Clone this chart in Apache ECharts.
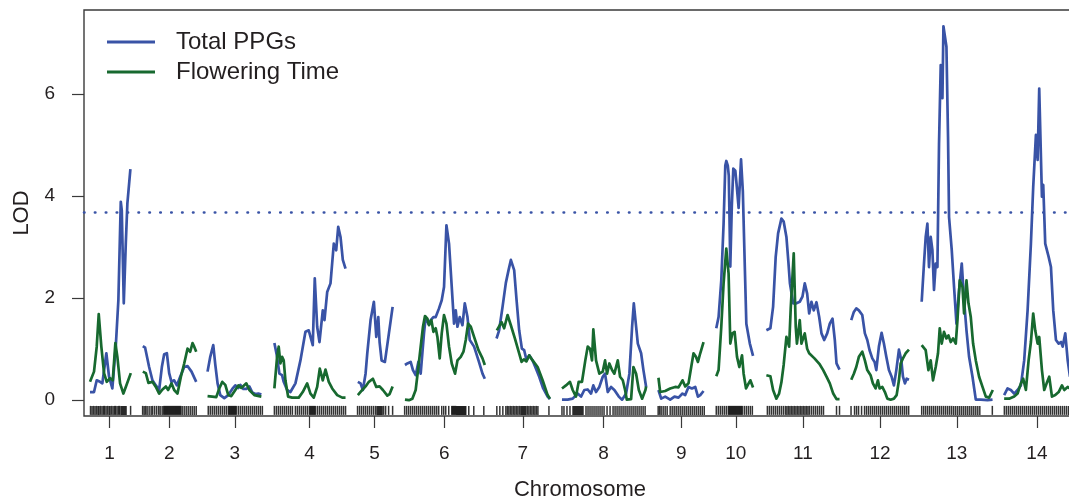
<!DOCTYPE html>
<html>
<head>
<meta charset="utf-8">
<script src="https://cdn.jsdelivr.net/npm/echarts@6/dist/echarts.min.js"></script>
<style>
html,body{margin:0;padding:0;background:#fff;}
#chart{width:1069px;height:502px;}
</style>
</head>
<body>
<div id="chart"></div>
<script>
// ---- Chromosomes (lengths in cM) ----
const chromNames = ['1','2','3','4','5','6','7','8','9','10','11','12','13','14'];
const chromLengths = [86,108,110,144,72,162,108,170,96,78,146,118,144,132];
const chromGap = 22;
const yTicks = [0,2,4,6];
const threshold = 3.69;

// ---- Total PPGs LOD profile, per chromosome [cM, LOD] ----
const ppgLod = [
 [[4,0.16],[12,0.16],[17.4,0.39],[24,0.36],[28.6,0.33],[36.6,0.92],[42,0.46],[48.6,0.23],[55.4,1.05],[60.6,1.96],[65.4,3.89],[67.4,3.72],[71.4,1.9],[75.4,3.07],[78.6,3.86],[84.6,4.53]],
 [[1.4,1.06],[6,1.03],[14,0.65],[20.6,0.39],[27.4,0.29],[34,0.2],[39.4,0.65],[44,0.9],[49.4,0.92],[54,0.53],[58.6,0.36],[64,0.39],[69.4,0.29],[76,0.46],[84,0.65],[90.6,0.67],[98.6,0.56],[108,0.36]],
 [[0.6,0.56],[6,0.85],[12,1.08],[16,0.7],[20.6,0.33],[26,0.1],[34,0.04],[42,0.1],[50,0.22],[56,0.29],[62,0.24],[66,0.3],[72,0.22],[78,0.22],[84,0.27],[90,0.15],[96,0.12],[102,0.13],[108,0.11]],
 [[2,1.12],[7.4,0.85],[12,0.52],[17.4,0.49],[20.6,0.36],[27.4,0.2],[34,0.16],[44,0.33],[54,0.78],[64,1.34],[70.6,1.37],[78.6,1.08],[82.6,2.39],[87.4,1.44],[92,1.14],[98.6,1.76],[102,1.57],[107.4,2.12],[114,2.29],[120.6,3.07],[125.4,2.94],[129.4,3.4],[134,3.2],[138.6,2.75],[144,2.58]],
 [[2.6,0.36],[8,0.33],[12.6,0.2],[18,0.52],[21.4,0.92],[28,1.57],[34.6,1.93],[39.4,1.24],[43.4,1.63],[46,1.14],[50,0.78],[56.6,0.75],[64.6,1.31],[72,1.83]],
 [[2.6,0.69],[7.4,0.72],[14,0.75],[18.6,0.59],[24,0.49],[29.4,0.75],[34,0.52],[40.6,1.31],[44,1.63],[49.4,1.5],[54,1.57],[59.4,1.63],[64,1.63],[70.6,1.8],[76,1.96],[80.6,2.22],[85.4,3.43],[90.6,3.07],[96,2.22],[100.6,1.5],[104,1.76],[107.4,1.44],[112,1.63],[117.4,1.47],[122,1.9],[127.4,1.63],[132,1.18],[140.6,1.05],[149.4,0.78],[157.4,0.52],[162,0.42]],
 [[1.4,1.21],[6.6,1.37],[13.4,1.83],[20,2.3],[25.4,2.55],[30,2.75],[33,2.78],[36.6,2.55],[41.4,1.96],[46.6,1.37],[52,1.01],[56.6,0.98],[61.4,0.78],[66.6,0.88],[73.4,0.78],[80,0.62],[86.6,0.46],[94.6,0.23],[103.4,0.07],[108,0.02]],
 [[2,0.01],[13.4,0.01],[23.4,0.03],[33.4,0.13],[40,0.07],[46.6,0.2],[53.4,0.21],[60,0.13],[64.6,0.29],[70,0.16],[76.6,0.26],[83.4,0.46],[88,0.52],[93.4,0.16],[100,0.26],[106.6,0.2],[115.4,0.07],[122,0.01],[130,0.13],[136.6,0.52],[142,1.44],[145.4,1.9],[150,1.44],[153.4,1.11],[160,0.92],[164.6,0.59],[170,0.26]],
 [[2.6,0.2],[8,0.03],[16,0.07],[26,0.01],[34.6,0.07],[42.6,0.05],[50.6,0.13],[56,0.1],[62.6,0.26],[69.4,0.23],[76,0.26],[81.4,0.07],[86,0.1],[92.6,0.18]],
 [[0,1.41],[4.6,1.63],[10,2.35],[14.6,3.46],[18,4.6],[20,4.69],[23,4.6],[25,4.4],[28,2.62],[31,3.8],[34,4.54],[38,4.5],[41,4.18],[44.6,3.77],[49.4,4.72],[53,4.1],[57,2.6],[60,1.5],[67,1.11],[73.4,0.87]],
 [[0,1.37],[8,1.41],[13.4,1.83],[18.6,2.81],[23.4,3.27],[30,3.56],[34.6,3.5],[40,3.2],[44,2.7],[47,2.29],[53.4,1.9],[60,1.9],[66.6,1.93],[72,2.03],[76.6,2.29],[81.4,2.09],[85.4,1.7],[90,1.93],[94.6,1.76],[100,1.92],[105.4,1.63],[110,1.31],[115.4,1.18],[121.4,1.31],[126.6,1.5],[132,1.6],[136.6,1.18],[140,0.72],[146,0.6]],
 [[1.4,1.57],[6.6,1.73],[11.4,1.8],[16.6,1.76],[23.4,1.67],[28.6,1.31],[33.4,1.18],[38,0.98],[43.4,0.82],[48,0.75],[51.4,0.59],[56.6,1.05],[62,1.32],[66.6,1.11],[71.4,0.85],[76.6,0.59],[82,0.46],[86.6,0.29],[91.4,0.59],[96.6,0.99],[101.4,0.78],[104.6,0.46],[108.6,0.33],[112,0.42],[116.6,0.4]],
 [[2,1.93],[6.6,2.68],[10,3.2],[13.4,3.46],[16.6,2.61],[20,3.2],[23.4,2.94],[26.6,2.16],[30,2.68],[33.4,2.61],[36.6,5.03],[40,6.57],[42,6.6],[43.4,5.92],[45.4,7.33],[48.6,7.3],[51.4,6.93],[54.6,5.16],[56.6,3.59],[62,2.94],[66.6,2.22],[71.4,1.5],[76.6,2.16],[82,2.68],[86.6,1.96],[91.4,1.37],[96.6,0.85],[103.4,0.46],[110,0.01],[120,0.01],[133.4,0.0],[143.4,0.01]],
 [[0.6,0.1],[7.4,0.23],[14,0.2],[20.6,0.13],[27.4,0.2],[34,0.29],[40.6,0.78],[47.4,1.76],[54,3.07],[58.6,4.18],[64,5.2],[67.4,4.71],[70.6,6.11],[74,4.77],[76,3.99],[78.6,4.22],[82.6,3.07],[89.4,2.81],[94,2.61],[98.6,1.76],[104,1.18],[109.4,1.11],[114,1.14],[117.4,1.05],[122.6,1.31],[127.4,0.78],[132,0.46]]
];

// ---- Flowering Time LOD profile, per chromosome [cM, LOD] ----
const fltLod = [
 [[4,0.36],[12,0.56],[17.4,1.05],[21.4,1.69],[26.6,1.05],[32,0.53],[37.4,0.36],[44,0.43],[49.4,0.39],[54.6,1.12],[58.6,0.85],[64,0.33],[70.6,0.13],[75.4,0.26],[85.4,0.53]],
 [[1.4,0.56],[7.4,0.53],[12.6,0.34],[20.6,0.36],[27.4,0.26],[34,0.13],[40.6,0.21],[47.4,0.27],[52,0.2],[58.6,0.33],[64,0.2],[70.6,0.13],[77.4,0.46],[84,0.72],[90.6,1.01],[96,0.95],[100.6,1.12],[104,1.05],[108,0.95]],
 [[0.6,0.08],[10,0.07],[18,0.06],[24,0.23],[30,0.36],[36,0.3],[42,0.1],[48,0.08],[56,0.2],[62,0.29],[68,0.24],[78,0.33],[84,0.2],[94,0.1],[108,0.07]],
 [[2,0.23],[7.4,0.85],[10.6,1.05],[14,0.72],[17.4,0.85],[20.6,0.78],[24,0.39],[29.4,0.07],[37.4,0.05],[50.6,0.05],[58.6,0.16],[67.4,0.33],[74,0.13],[80.6,0.05],[87.4,0.26],[92.6,0.62],[98.6,0.39],[104,0.6],[110.6,0.36],[117.4,0.23],[127.4,0.1],[137.4,0.05],[144,0.05]],
 [[2.6,0.1],[11.4,0.2],[18,0.27],[24.6,0.36],[32.6,0.42],[39.4,0.26],[46,0.27],[52.6,0.2],[61.4,0.09],[66,0.12],[72,0.27]],
 [[2.6,0.01],[10.6,0.0],[17.4,0.03],[24,0.2],[29.4,0.65],[34,1.05],[38.6,1.44],[42.6,1.65],[47.4,1.6],[50.6,1.47],[55.4,1.57],[59.4,1.34],[64,1.41],[67.4,1.24],[72,0.82],[76,1.31],[80.6,1.67],[85.4,1.5],[90.6,1.05],[96,0.72],[102.6,0.52],[107.4,0.78],[114,0.85],[119.4,0.95],[124,1.18],[128.6,1.5],[134,1.44],[140.6,1.24],[149.4,0.98],[157.4,0.82],[162,0.69]],
 [[2,1.37],[11.4,1.53],[16.6,1.41],[23.4,1.67],[30,1.47],[38,1.21],[46.6,0.92],[51.4,0.75],[56,0.8],[61,0.76],[66.6,0.88],[73.4,0.78],[83.4,0.65],[93.4,0.39],[103.4,0.1],[108,0.03]],
 [[2,0.23],[10,0.29],[18,0.36],[23.4,0.2],[30,0.07],[35.4,0.36],[42,0.36],[48.6,0.78],[53.4,1.05],[58,1.01],[62,0.78],[64.6,1.39],[70,0.78],[76.6,0.52],[83.4,0.56],[88,0.78],[92,0.52],[96.6,0.72],[102,0.59],[106.6,0.52],[113.4,0.78],[118,0.46],[123.4,0.39],[128,0.2],[131.4,0.01],[140,0.02],[144.6,0.65],[150,0.52],[155.4,0.2],[162,0.03],[168.6,0.2],[170,0.27]],
 [[2.6,0.44],[6,0.16],[16,0.18],[26,0.23],[36,0.26],[42.6,0.25],[50.6,0.39],[56,0.27],[62.6,0.33],[68,0.65],[72.6,0.92],[77.4,0.85],[81.4,0.75],[86,0.92],[92.6,1.14]],
 [[0,0.47],[4.6,0.59],[10,1.44],[14.6,2.29],[20,2.97],[24.6,2.48],[28,1.11],[32,1.31],[36.6,1.34],[41.4,0.85],[46,0.65],[51.4,0.88],[54.6,0.52],[59.4,0.23],[64.6,0.33],[68,0.39],[73.4,0.25]],
 [[0,0.49],[8,0.47],[13.4,0.2],[20,0.03],[25.4,0.13],[30,0.35],[34.6,0.7],[40,1.24],[45.4,1.05],[48.6,1.8],[54.6,2.88],[58.6,1.44],[61,1.11],[66.6,1.57],[70,1.11],[76.6,1.31],[81.4,1.01],[85.4,0.92],[96,0.82],[106.6,0.7],[113.4,0.59],[120,0.46],[126.6,0.33],[133.4,0.13],[140,0.02],[146,0.02]],
 [[1.4,0.4],[6.6,0.52],[11.4,0.65],[16.6,0.85],[23.4,0.95],[28.6,0.78],[33.4,0.59],[40,0.49],[44.6,0.33],[50,0.23],[54.6,0.39],[58,0.23],[63.4,0.26],[68.6,0.16],[73.4,0.03],[80,0.01],[86.6,0.03],[92,0.1],[96.6,0.39],[100,0.72],[104.6,0.82],[110,0.92],[116.6,0.99]],
 [[2,1.08],[10,0.98],[15.4,0.59],[20,0.78],[24.6,0.39],[30,0.65],[34.6,0.92],[38,1.41],[42,1.11],[46.6,1.34],[51.4,1.21],[55.4,1.27],[60,1.14],[64.6,1.21],[70,1.11],[73.4,1.57],[78,2.35],[83.4,2.22],[86.6,1.7],[91.4,2.35],[95.4,1.9],[100,1.63],[104.6,1.11],[110,0.78],[116.6,0.46],[123.4,0.26],[130,0.07],[136.6,0.05],[144,0.2]],
 [[0.6,0.03],[10.6,0.03],[20.6,0.07],[27.4,0.13],[34,0.33],[38.6,0.42],[44,0.2],[49.4,0.78],[54,1.14],[58.6,1.7],[62.6,1.37],[67.4,1.11],[70.6,1.24],[76,0.59],[80.6,0.2],[85.4,0.33],[90.6,0.46],[96,0.07],[102.6,0.1],[109.4,0.16],[116,0.29],[120.6,0.2],[127.4,0.26],[132,0.23]]
];

// ---- Genetic markers (cM) per chromosome, drawn as a rug ----
const markers = [
 [5,8,11,14,17,20,22,25,28,31,33,36,39,42,44,47,50,53,55,58,61,63,66,68,70,72,74,76,85],
 [1,4,7,10,14,18,21,25,29,33,36,40,43,45,47,49,51,53,55,57,59,61,63,65,67,69,71,73,75,77,80,84,88,92,96,100,104,108],
 [2,6,10,14,18,22,26,30,34,38,42,44,46,48,50,52,54,56,58,62,66,70,74,78,82,86,90,94,98,102,106,110],
 [2,6,10,14,18,22,26,30,34,38,44,48,52,56,60,64,68,72,74,76,78,80,82,84,88,92,96,100,104,108,112,116,120,124,128,132,136,140,144],
 [2,6,10,14,18,22,26,30,34,38,41,43,45,47,49,51,54,58,64,72],
 [2,6,10,14,18,22,26,30,34,38,42,46,50,54,58,62,66,70,76,80,84,90,96,98,100,102,104,106,108,110,112,114,116,118,120,122,124,130,140,160],
 [2,8,14,20,23,26,29,32,35,38,41,44,47,50,52,54,56,58,60,63,66,69,72,75,78,81,84,106],
 [2,6,12,18,24,26,28,30,32,34,36,38,40,42,44,50,54,58,62,66,70,74,78,82,86,92,98,104,108,112,116,120,124,128,132,136,140,144,148,152,156,160,164,168],
 [2,5,8,12,16,20,26,30,34,38,42,46,50,54,58,62,66,70,74,78,82,86,90,94],
 [0,4,8,12,16,20,24,26,28,30,32,34,36,38,40,42,44,46,48,50,52,56,60,64,68,72],
 [2,6,10,14,18,22,26,30,34,38,41,44,47,50,53,56,59,62,65,68,71,74,77,80,83,86,90,94,98,102,106,110,114,140,146],
 [1,8,12,16,22,28,32,36,40,44,48,52,56,60,64,68,72,76,80,84,88,92,96,100,104,108,112,116],
 [2,6,10,14,18,22,26,30,34,38,42,46,50,54,58,62,66,70,74,78,82,86,90,94,98,102,106,110,114,118,143],
 [1,5,9,13,17,21,25,29,33,37,41,45,49,53,57,61,65,69,73,77,81,85,89,93,97,101,105,109,113,117,121,125,129]
];
const rugLevel = -0.2;

// ---- derived genome layout ----
const offsets = [];
let acc = 0;
chromLengths.forEach((len) => { offsets.push(acc); acc += len + chromGap; });
const mids = chromLengths.map((len, i) => offsets[i] + len / 2);

const BLUE = '#3953a6';
const GREEN = '#17692f';
const TEXT = '#231f20';
const FONT = '"Liberation Sans", Arial, Helvetica, sans-serif';

const series = [];
ppgLod.forEach((pts, i) => {
  series.push({
    type: 'line', name: 'Total PPGs', symbol: 'none', showSymbol: false,
    data: pts.map(p => [offsets[i] + p[0], p[1]]),
    lineStyle: { color: BLUE, width: 2.7, join: 'round' },
    itemStyle: { color: BLUE },
    z: 3, silent: true,
    markLine: i === 0 ? {
      silent: true, symbol: ['none', 'none'], label: { show: false },
      lineStyle: { color: BLUE, width: 2.6, type: [0.5, 10.4], cap: 'round' },
      data: [{ yAxis: threshold }]
    } : undefined
  });
});
fltLod.forEach((pts, i) => {
  series.push({
    type: 'line', name: 'Flowering Time', symbol: 'none', showSymbol: false,
    data: pts.map(p => [offsets[i] + p[0], p[1]]),
    lineStyle: { color: GREEN, width: 2.7, join: 'round' },
    itemStyle: { color: GREEN },
    z: 4, silent: true
  });
});
const rugData = [];
markers.forEach((list, i) => list.forEach(m => rugData.push([offsets[i] + m, rugLevel])));
series.push({
  type: 'scatter', name: 'markers', symbol: 'rect', symbolSize: [1.5, 9],
  data: rugData, itemStyle: { color: '#000' }, silent: true, z: 2
});

const chart = echarts.init(document.getElementById('chart'), null, { renderer: 'canvas' });
chart.setOption({
  animation: false,
  backgroundColor: '#fff',
  textStyle: { fontFamily: FONT },
  grid: {
    left: 84, top: 10, right: -8, bottom: 86,
    show: true, borderColor: '#3a3a3a', borderWidth: 1.4, backgroundColor: 'transparent',
    containLabel: false, outerBoundsMode: 'none'
  },
  legend: {
    data: [
      { name: 'Total PPGs', icon: 'rect', itemStyle: { color: BLUE } },
      { name: 'Flowering Time', icon: 'rect', itemStyle: { color: GREEN } }
    ],
    orient: 'vertical', left: 102, top: 25,
    itemWidth: 48, itemHeight: 2.8, itemGap: 6,
    textStyle: { fontSize: 24, color: TEXT, fontFamily: FONT, lineHeight: 24, padding: [0, 0, 0, 16] },
    selectedMode: false
  },
  xAxis: {
    type: 'value', min: -8, max: 1974,
    splitLine: { show: false },
    axisLine: { show: false, onZero: false },
    axisTick: { show: true, customValues: mids, length: 12, lineStyle: { color: '#3a3a3a', width: 1.2 } },
    axisLabel: {
      show: true, customValues: mids, margin: 28, fontSize: 19, color: TEXT, fontFamily: FONT,
      formatter: v => { const k = mids.findIndex(m => Math.abs(m - v) < 0.5); return k >= 0 ? chromNames[k] : ''; }
    }
  },
  yAxis: {
    type: 'value', min: -0.31, max: 7.65,
    splitLine: { show: false },
    axisLine: { show: false, onZero: false },
    axisTick: { show: true, customValues: yTicks, length: 12, lineStyle: { color: '#3a3a3a', width: 1.2 } },
    axisLabel: { show: true, customValues: yTicks, margin: 29, fontSize: 19, color: TEXT, fontFamily: FONT, formatter: v => String(v) }
  },
  graphic: [
    { type: 'text', x: 580, y: 490, style: { text: 'Chromosome', fontSize: 22, fill: TEXT, fontFamily: FONT, align: 'center', verticalAlign: 'middle' } },
    { type: 'text', x: 22, y: 213, rotation: Math.PI / 2, style: { text: 'LOD', fontSize: 22, fill: TEXT, fontFamily: FONT, align: 'center', verticalAlign: 'middle' } }
  ],
  series: series
});
</script>
</body>
</html>
